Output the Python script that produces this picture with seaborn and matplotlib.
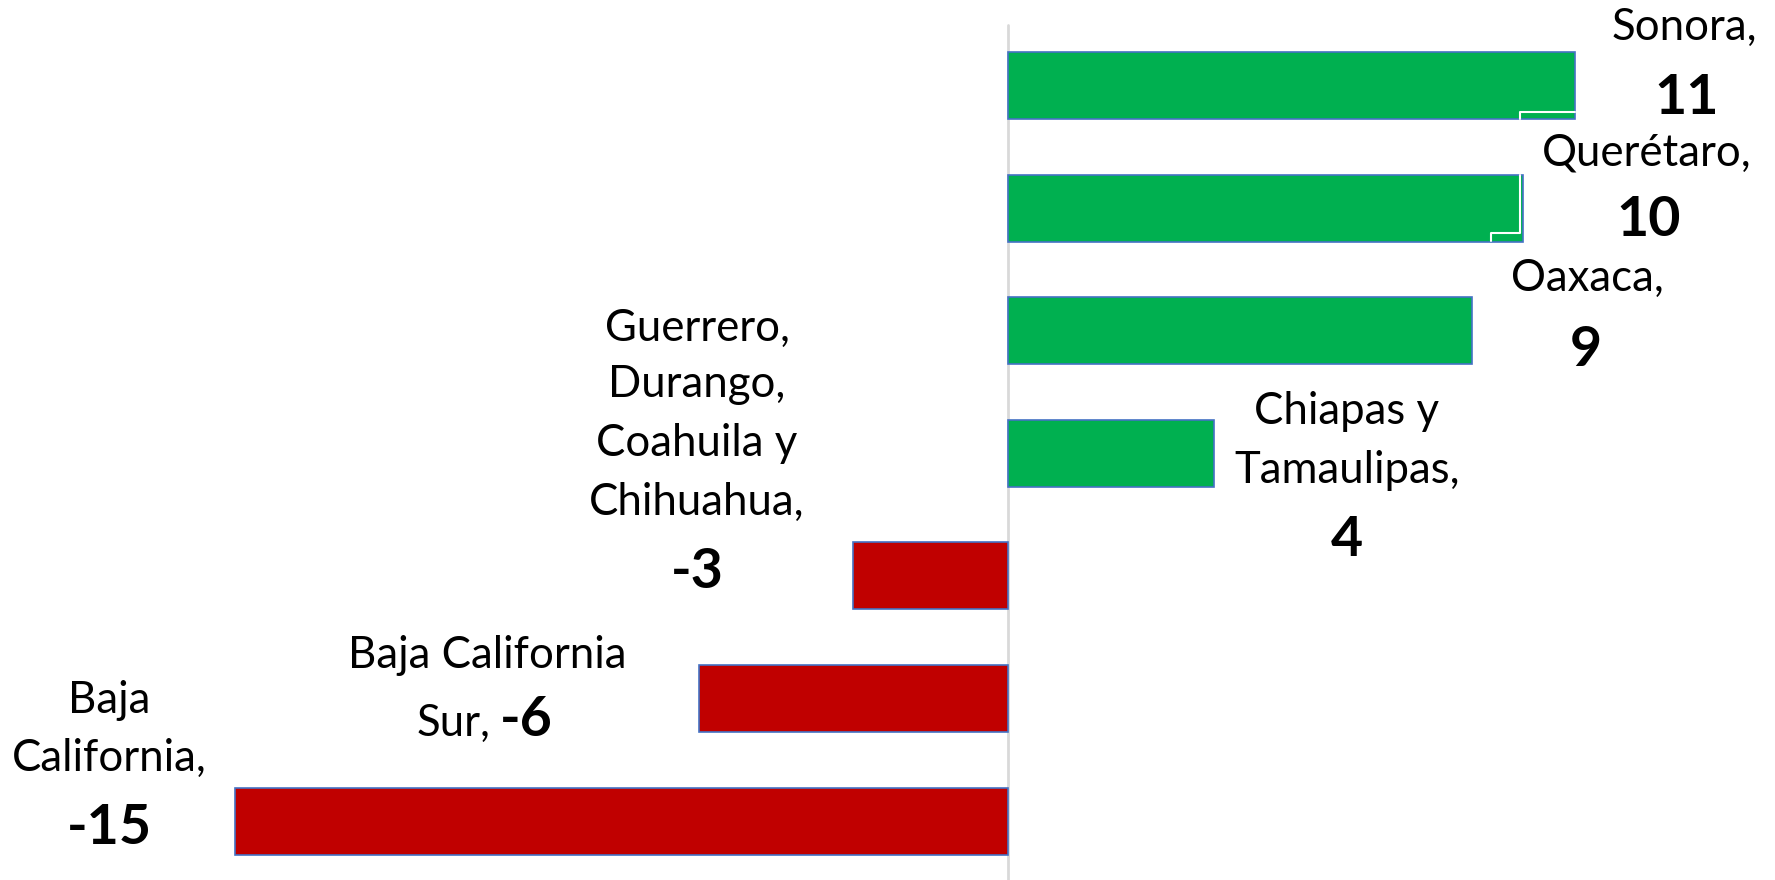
import pandas as pd
import numpy as np
import matplotlib.pyplot as plt
import seaborn as sns

# Data
states = ['Sonora', 'Querétaro', 'Oaxaca', 'Chiapas y Tamaulipas',
          'Guerrero, Durango, Coahuila y Chihuahua', 'Baja California Sur', 'Baja California']
values = [11, 10, 9, 4, -3, -6, -15]

df = pd.DataFrame({'estado': states, 'valor': values})
df['signo'] = np.where(df['valor'] >= 0, 'pos', 'neg')

sns.set_style('white')
plt.rcParams['font.family'] = ['Lato', 'DejaVu Sans']

W, H = 1775, 880
fig = plt.figure(figsize=(W / 100, H / 100), dpi=100)
ax = fig.add_axes([0, 0, 1, 1])

sns.barplot(data=df, x='valor', y='estado', hue='signo',
            palette={'pos': '#00B050', 'neg': '#C00000'}, saturation=1,
            orient='h', width=0.545, edgecolor='#4472C4', linewidth=1.2,
            legend=False, ax=ax)

# scale: zero at x=1008 px, 51.5 px per unit; bar centres 85.5 px + 122.6 px each
ax.set_xlim(-1008 / 51.5, (W - 1008) / 51.5)
ax.set_ylim((H - 85.5) / 122.6, -85.5 / 122.6)
ax.axis('off')
ax.axvline(0, ymin=0, ymax=1 - 25 / H, color='#D9D9D9', lw=2, zorder=0)

# little white leader lines left by the label boxes
ax.plot([9.94, 9.94, 11.0], [0.273, 0.216, 0.216], color='white', lw=1.5)
ax.plot([9.94, 9.94, 9.38, 9.38], [0.73, 1.20, 1.20, 1.27], color='white', lw=1.5)

# Labels
def put(txt, px, py, bold=False, ha='center'):
    fig.text(px / W, 1 - py / H, txt, ha=ha, va='baseline',
             fontsize=40 if bold else 31.5,
             fontweight='bold' if bold else 'normal', color='black')

put('Sonora,', 1684, 40)
put('11', 1687, 114, bold=True)
put('Querétaro,', 1647, 165)
put('10', 1649, 236, bold=True)
put('Oaxaca,', 1587, 291)
put('9', 1586, 366, bold=True)
put('Chiapas y', 1347, 424)
put('Tamaulipas,', 1347, 483)
put('4', 1347, 556, bold=True)
put('Guerrero,', 697, 341)
put('Durango,', 697, 397)
put('Coahuila y', 697, 456)
put('Chihuahua,', 697, 515)
put('-3', 697, 588, bold=True)
put('Baja California', 487, 668)
put('Sur,', 490, 736, ha='right')
put('-6', 500, 736, bold=True, ha='left')
put('Baja', 109, 713)
put('California,', 109, 771)
put('-15', 109, 844, bold=True)

fig.savefig('out.png', dpi=100)
